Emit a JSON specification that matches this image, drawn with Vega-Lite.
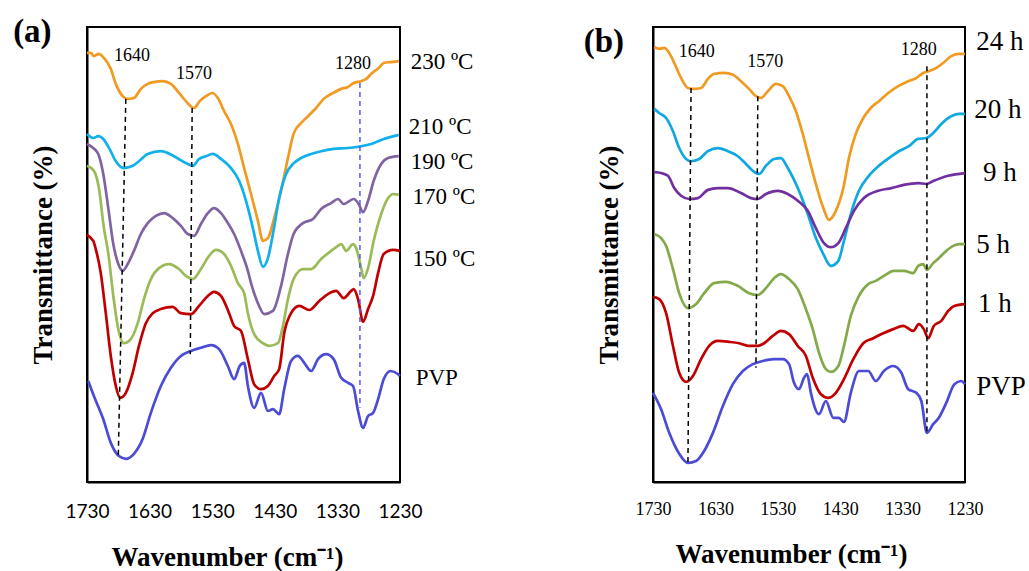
{
  "$schema": "https://vega.github.io/schema/vega-lite/v6.json",
  "padding": {"left": 12, "top": 15, "right": 0, "bottom": 0},
  "background": "white",
  "bounds": "flush",
  "spacing": 253,
  "resolve": {"scale": {"color": "independent", "x": "independent", "y": "independent"}},
  "config": {
    "view": {"stroke": "black", "strokeWidth": 2},
    "axis": {"grid": false, "zindex": 1, "domainColor": "black", "domainWidth": 2, "tickColor": "black", "labelColor": "black", "titleColor": "black", "titleFont": "Liberation Serif", "titleFontWeight": "bold", "titleFontSize": 27}
  },
  "hconcat": [
    {
      "width": 313,
      "height": 455,
      "encoding": {
        "x": {"field": "w", "type": "quantitative", "scale": {"domain": [1230, 1730], "reverse": true, "nice": false, "zero": false},
          "axis": {"values": [1730, 1630, 1530, 1430, 1330, 1230], "format": "d", "ticks": false, "labelFont": "Lato", "labelFontSize": 19, "labelPadding": 20, "labelFlush": false, "labelOverlap": false, "labelBound": false, "title": "Wavenumber (cm⁻¹)", "titlePadding": 23, "titleX": 140}},
        "y": {"field": "t", "type": "quantitative", "scale": {"domain": [0, 100], "nice": false, "zero": false},
          "axis": {"labels": false, "ticks": false, "title": "Transmittance (%)", "titlePadding": 30}}
      },
      "layer": [
        {
          "data": {"values": [
{"s":"230","w":1730,"t":94.3},{"s":"230","w":1724,"t":94.3},{"s":"230","w":1719,"t":93.6},{"s":"230","w":1711,"t":94.1},{"s":"230","w":1703,"t":93.2},{"s":"230","w":1692,"t":90.8},{"s":"230","w":1684,"t":87.5},{"s":"230","w":1673,"t":84.8},{"s":"230","w":1666,"t":84.2},{"s":"230","w":1655,"t":84.4},{"s":"230","w":1644,"t":86.4},{"s":"230","w":1633,"t":87.5},{"s":"230","w":1623,"t":87.9},{"s":"230","w":1609,"t":88.1},{"s":"230","w":1596,"t":87.5},{"s":"230","w":1583,"t":85.5},{"s":"230","w":1572,"t":83.7},{"s":"230","w":1559,"t":82.2},{"s":"230","w":1550,"t":83.7},{"s":"230","w":1540,"t":84.8},{"s":"230","w":1530,"t":85.5},{"s":"230","w":1521,"t":84.4},{"s":"230","w":1511,"t":81.5},{"s":"230","w":1500,"t":78.7},{"s":"230","w":1489,"t":74.3},{"s":"230","w":1479,"t":69.0},{"s":"230","w":1468,"t":63.3},{"s":"230","w":1457,"t":57.4},{"s":"230","w":1449,"t":53.0},{"s":"230","w":1441,"t":53.6},{"s":"230","w":1431,"t":58.0},{"s":"230","w":1420,"t":64.0},{"s":"230","w":1409,"t":71.2},{"s":"230","w":1400,"t":76.5},{"s":"230","w":1388,"t":78.9},{"s":"230","w":1377,"t":80.4},{"s":"230","w":1364,"t":82.2},{"s":"230","w":1352,"t":84.2},{"s":"230","w":1337,"t":85.5},{"s":"230","w":1324,"t":86.4},{"s":"230","w":1313,"t":86.8},{"s":"230","w":1304,"t":87.7},{"s":"230","w":1292,"t":88.1},{"s":"230","w":1284,"t":88.6},{"s":"230","w":1276,"t":89.7},{"s":"230","w":1264,"t":91.0},{"s":"230","w":1256,"t":92.1},{"s":"230","w":1244,"t":92.3},{"s":"230","w":1232,"t":92.5},
{"s":"210","w":1730,"t":76.5},{"s":"210","w":1720,"t":75.6},{"s":"210","w":1712,"t":76.0},{"s":"210","w":1704,"t":75.4},{"s":"210","w":1694,"t":73.2},{"s":"210","w":1684,"t":70.5},{"s":"210","w":1671,"t":69.0},{"s":"210","w":1657,"t":69.5},{"s":"210","w":1647,"t":70.5},{"s":"210","w":1633,"t":72.1},{"s":"210","w":1612,"t":72.7},{"s":"210","w":1591,"t":71.6},{"s":"210","w":1572,"t":70.1},{"s":"210","w":1561,"t":69.5},{"s":"210","w":1551,"t":71.0},{"s":"210","w":1540,"t":71.6},{"s":"210","w":1529,"t":72.1},{"s":"210","w":1516,"t":71.0},{"s":"210","w":1500,"t":69.0},{"s":"210","w":1487,"t":66.2},{"s":"210","w":1476,"t":61.8},{"s":"210","w":1465,"t":55.8},{"s":"210","w":1457,"t":50.8},{"s":"210","w":1449,"t":47.3},{"s":"210","w":1441,"t":49.2},{"s":"210","w":1433,"t":54.5},{"s":"210","w":1423,"t":62.4},{"s":"210","w":1412,"t":67.7},{"s":"210","w":1401,"t":69.9},{"s":"210","w":1388,"t":71.2},{"s":"210","w":1372,"t":72.1},{"s":"210","w":1356,"t":72.7},{"s":"210","w":1336,"t":73.2},{"s":"210","w":1313,"t":73.4},{"s":"210","w":1292,"t":73.8},{"s":"210","w":1276,"t":74.3},{"s":"210","w":1256,"t":75.4},{"s":"210","w":1232,"t":76.3},
{"s":"190","w":1730,"t":74.3},{"s":"190","w":1720,"t":73.4},{"s":"190","w":1712,"t":72.1},{"s":"190","w":1704,"t":67.7},{"s":"190","w":1696,"t":60.2},{"s":"190","w":1688,"t":52.3},{"s":"190","w":1680,"t":47.9},{"s":"190","w":1673,"t":46.4},{"s":"190","w":1665,"t":47.9},{"s":"190","w":1655,"t":50.8},{"s":"190","w":1644,"t":54.5},{"s":"190","w":1633,"t":56.9},{"s":"190","w":1620,"t":58.5},{"s":"190","w":1607,"t":59.1},{"s":"190","w":1593,"t":58.0},{"s":"190","w":1580,"t":56.3},{"s":"190","w":1569,"t":54.5},{"s":"190","w":1559,"t":54.1},{"s":"190","w":1548,"t":56.7},{"s":"190","w":1537,"t":59.1},{"s":"190","w":1527,"t":60.2},{"s":"190","w":1516,"t":59.1},{"s":"190","w":1505,"t":56.9},{"s":"190","w":1495,"t":54.5},{"s":"190","w":1484,"t":50.8},{"s":"190","w":1473,"t":46.4},{"s":"190","w":1468,"t":43.7},{"s":"190","w":1457,"t":39.3},{"s":"190","w":1447,"t":36.9},{"s":"190","w":1433,"t":37.6},{"s":"190","w":1420,"t":43.1},{"s":"190","w":1409,"t":50.1},{"s":"190","w":1400,"t":54.5},{"s":"190","w":1385,"t":56.9},{"s":"190","w":1369,"t":57.8},{"s":"190","w":1356,"t":60.0},{"s":"190","w":1340,"t":61.3},{"s":"190","w":1329,"t":62.2},{"s":"190","w":1320,"t":61.1},{"s":"190","w":1304,"t":62.2},{"s":"190","w":1296,"t":61.1},{"s":"190","w":1289,"t":59.3},{"s":"190","w":1281,"t":61.8},{"s":"190","w":1272,"t":66.2},{"s":"190","w":1260,"t":69.9},{"s":"190","w":1249,"t":71.2},{"s":"190","w":1232,"t":71.6},
{"s":"170","w":1730,"t":69.5},{"s":"170","w":1719,"t":68.4},{"s":"170","w":1711,"t":64.6},{"s":"170","w":1703,"t":55.8},{"s":"170","w":1696,"t":50.3},{"s":"170","w":1688,"t":40.9},{"s":"170","w":1680,"t":33.6},{"s":"170","w":1671,"t":30.5},{"s":"170","w":1660,"t":31.4},{"s":"170","w":1649,"t":34.9},{"s":"170","w":1639,"t":40.2},{"s":"170","w":1628,"t":44.6},{"s":"170","w":1615,"t":47.0},{"s":"170","w":1599,"t":47.9},{"s":"170","w":1583,"t":46.8},{"s":"170","w":1572,"t":45.3},{"s":"170","w":1561,"t":44.6},{"s":"170","w":1548,"t":46.8},{"s":"170","w":1535,"t":49.7},{"s":"170","w":1524,"t":51.0},{"s":"170","w":1511,"t":50.1},{"s":"170","w":1500,"t":47.5},{"s":"170","w":1489,"t":43.7},{"s":"170","w":1479,"t":41.5},{"s":"170","w":1473,"t":37.1},{"s":"170","w":1463,"t":32.5},{"s":"170","w":1449,"t":30.5},{"s":"170","w":1439,"t":29.9},{"s":"170","w":1425,"t":30.5},{"s":"170","w":1417,"t":34.3},{"s":"170","w":1409,"t":40.2},{"s":"170","w":1400,"t":44.6},{"s":"170","w":1385,"t":46.8},{"s":"170","w":1372,"t":46.8},{"s":"170","w":1356,"t":49.0},{"s":"170","w":1340,"t":50.8},{"s":"170","w":1329,"t":51.9},{"s":"170","w":1324,"t":52.3},{"s":"170","w":1316,"t":50.8},{"s":"170","w":1305,"t":52.3},{"s":"170","w":1300,"t":51.4},{"s":"170","w":1292,"t":47.0},{"s":"170","w":1288,"t":44.8},{"s":"170","w":1281,"t":47.0},{"s":"170","w":1272,"t":53.0},{"s":"170","w":1260,"t":58.9},{"s":"170","w":1249,"t":62.4},{"s":"170","w":1241,"t":63.3},{"s":"170","w":1232,"t":63.1},
{"s":"150","w":1730,"t":54.3},{"s":"150","w":1720,"t":53.0},{"s":"150","w":1716,"t":51.2},{"s":"150","w":1708,"t":45.9},{"s":"150","w":1700,"t":37.1},{"s":"150","w":1692,"t":27.7},{"s":"150","w":1684,"t":21.1},{"s":"150","w":1677,"t":18.5},{"s":"150","w":1668,"t":19.6},{"s":"150","w":1657,"t":24.0},{"s":"150","w":1647,"t":29.9},{"s":"150","w":1636,"t":34.9},{"s":"150","w":1625,"t":37.1},{"s":"150","w":1612,"t":38.0},{"s":"150","w":1593,"t":38.5},{"s":"150","w":1580,"t":37.1},{"s":"150","w":1564,"t":36.9},{"s":"150","w":1551,"t":38.7},{"s":"150","w":1537,"t":40.9},{"s":"150","w":1527,"t":41.8},{"s":"150","w":1516,"t":40.9},{"s":"150","w":1503,"t":37.1},{"s":"150","w":1495,"t":34.3},{"s":"150","w":1484,"t":33.2},{"s":"150","w":1473,"t":27.0},{"s":"150","w":1463,"t":21.5},{"s":"150","w":1452,"t":20.4},{"s":"150","w":1441,"t":21.1},{"s":"150","w":1431,"t":23.3},{"s":"150","w":1423,"t":24.8},{"s":"150","w":1415,"t":32.7},{"s":"150","w":1404,"t":37.1},{"s":"150","w":1391,"t":38.7},{"s":"150","w":1375,"t":37.8},{"s":"150","w":1359,"t":39.8},{"s":"150","w":1345,"t":41.3},{"s":"150","w":1332,"t":42.0},{"s":"150","w":1320,"t":40.4},{"s":"150","w":1308,"t":42.0},{"s":"150","w":1304,"t":42.4},{"s":"150","w":1297,"t":40.2},{"s":"150","w":1289,"t":35.2},{"s":"150","w":1281,"t":38.0},{"s":"150","w":1273,"t":40.9},{"s":"150","w":1265,"t":45.9},{"s":"150","w":1256,"t":50.1},{"s":"150","w":1241,"t":51.0},{"s":"150","w":1230,"t":50.8},
{"s":"PVP","w":1728,"t":22.2},{"s":"PVP","w":1719,"t":18.9},{"s":"PVP","w":1704,"t":13.8},{"s":"PVP","w":1692,"t":8.6},{"s":"PVP","w":1679,"t":5.7},{"s":"PVP","w":1668,"t":5.1},{"s":"PVP","w":1655,"t":6.2},{"s":"PVP","w":1641,"t":9.5},{"s":"PVP","w":1628,"t":15.2},{"s":"PVP","w":1612,"t":21.1},{"s":"PVP","w":1596,"t":25.1},{"s":"PVP","w":1580,"t":27.7},{"s":"PVP","w":1564,"t":28.8},{"s":"PVP","w":1548,"t":29.5},{"s":"PVP","w":1532,"t":30.1},{"s":"PVP","w":1519,"t":29.2},{"s":"PVP","w":1505,"t":25.5},{"s":"PVP","w":1495,"t":22.6},{"s":"PVP","w":1486,"t":25.5},{"s":"PVP","w":1479,"t":26.2},{"s":"PVP","w":1473,"t":21.1},{"s":"PVP","w":1463,"t":16.3},{"s":"PVP","w":1452,"t":19.6},{"s":"PVP","w":1441,"t":15.6},{"s":"PVP","w":1433,"t":16.0},{"s":"PVP","w":1423,"t":14.9},{"s":"PVP","w":1415,"t":20.4},{"s":"PVP","w":1404,"t":26.6},{"s":"PVP","w":1393,"t":27.7},{"s":"PVP","w":1383,"t":26.2},{"s":"PVP","w":1372,"t":24.4},{"s":"PVP","w":1361,"t":27.0},{"s":"PVP","w":1348,"t":28.1},{"s":"PVP","w":1336,"t":27.0},{"s":"PVP","w":1324,"t":22.9},{"s":"PVP","w":1313,"t":21.8},{"s":"PVP","w":1305,"t":21.1},{"s":"PVP","w":1297,"t":15.6},{"s":"PVP","w":1289,"t":11.9},{"s":"PVP","w":1281,"t":14.5},{"s":"PVP","w":1273,"t":15.2},{"s":"PVP","w":1265,"t":18.2},{"s":"PVP","w":1256,"t":22.6},{"s":"PVP","w":1245,"t":24.4},{"s":"PVP","w":1233,"t":23.7},{"s":"PVP","w":1230,"t":23.3}
          ]},
          "mark": {"type": "line", "strokeWidth": 2.7, "interpolate": "monotone"},
          "encoding": {
            "color": {"field": "s", "type": "nominal", "legend": null,
              "scale": {"domain": ["PVP", "150", "170", "190", "210", "230"], "range": ["#4b4bd6", "#c00000", "#9bbb59", "#8064a2", "#10b0ec", "#f09a22"]}}
          }
        },
        {
          "data": {"values": [{"w": 1630}, {"w": 1530}, {"w": 1430}, {"w": 1330}]},
          "mark": {"type": "rule", "strokeWidth": 2.5, "color": "black"},
          "encoding": {"y": {"datum": 0}, "y2": {"datum": 1.8}}
        },
        {
          "data": {"values": [
            {"w": 1668, "w2": 1680, "t": 84.2, "t2": 5.7},
            {"w": 1562, "w2": 1565, "t": 82.2, "t2": 28.1},
            {"w": 1294, "w2": 1294, "t": 87.7, "t2": 16.3}
          ]},
          "mark": {"type": "rule", "strokeWidth": 1.5, "strokeDash": [5, 4]},
          "encoding": {
            "x2": {"field": "w2"},
            "y2": {"field": "t2"},
            "color": {"condition": {"test": "datum.w < 1400", "value": "#5a5aea"}, "value": "black"}
          }
        },
        {
          "data": {"values": [
            {"w": 1658, "t": 93.6, "label": "1640"},
            {"w": 1559, "t": 89.7, "label": "1570"},
            {"w": 1305, "t": 91.9, "label": "1280"}
          ]},
          "mark": {"type": "text", "font": "Liberation Serif", "fontSize": 18, "align": "center", "baseline": "middle", "color": "black"},
          "encoding": {"text": {"field": "label"}}
        },
        {
          "data": {"values": [
            {"w": 1213, "t": 92.3, "label": "230 ºC"},
            {"w": 1216, "t": 78.0, "label": "210 ºC"},
            {"w": 1213, "t": 70.3, "label": "190 ºC"},
            {"w": 1210, "t": 62.6, "label": "170 ºC"},
            {"w": 1210, "t": 49.0, "label": "150 ºC"},
            {"w": 1205, "t": 22.9, "label": "PVP"}
          ]},
          "mark": {"type": "text", "font": "Liberation Serif", "fontSize": 23, "align": "left", "baseline": "middle", "color": "black"},
          "encoding": {"text": {"field": "label"}}
        },
        {
          "data": {"values": [{"w": 1848, "t": 98.9, "label": "(a)"}]},
          "mark": {"type": "text", "font": "Liberation Serif", "fontSize": 33, "fontWeight": "bold", "align": "left", "baseline": "middle", "color": "black"},
          "encoding": {"text": {"field": "label"}}
        }
      ]
    },
    {
      "width": 312,
      "height": 455,
      "encoding": {
        "x": {"field": "w", "type": "quantitative", "scale": {"domain": [1230, 1730], "reverse": true, "nice": false, "zero": false},
          "axis": {"values": [1730, 1630, 1530, 1430, 1330, 1230], "format": "d", "ticks": false, "labelFont": "Liberation Serif", "labelFontSize": 18, "labelPadding": 18, "labelFlush": false, "labelOverlap": false, "labelBound": false, "title": "Wavenumber (cm⁻¹)", "titlePadding": 23, "titleX": 138}},
        "y": {"field": "t", "type": "quantitative", "scale": {"domain": [0, 100], "nice": false, "zero": false},
          "axis": {"labels": false, "ticks": false, "title": "Transmittance (%)", "titlePadding": 30}}
      },
      "layer": [
        {
          "data": {"values": [
{"s":"24 h","w":1728,"t":95.6},{"s":"24 h","w":1720,"t":95.2},{"s":"24 h","w":1712,"t":95.4},{"s":"24 h","w":1704,"t":94.3},{"s":"24 h","w":1696,"t":92.1},{"s":"24 h","w":1685,"t":88.8},{"s":"24 h","w":1674,"t":86.6},{"s":"24 h","w":1664,"t":86.4},{"s":"24 h","w":1653,"t":86.6},{"s":"24 h","w":1642,"t":88.6},{"s":"24 h","w":1632,"t":89.7},{"s":"24 h","w":1616,"t":89.9},{"s":"24 h","w":1602,"t":89.5},{"s":"24 h","w":1589,"t":88.1},{"s":"24 h","w":1576,"t":86.4},{"s":"24 h","w":1565,"t":84.8},{"s":"24 h","w":1557,"t":84.4},{"s":"24 h","w":1546,"t":85.9},{"s":"24 h","w":1533,"t":87.5},{"s":"24 h","w":1522,"t":87.0},{"s":"24 h","w":1512,"t":84.8},{"s":"24 h","w":1501,"t":81.5},{"s":"24 h","w":1490,"t":76.5},{"s":"24 h","w":1480,"t":71.2},{"s":"24 h","w":1469,"t":65.5},{"s":"24 h","w":1457,"t":60.2},{"s":"24 h","w":1448,"t":57.6},{"s":"24 h","w":1437,"t":59.6},{"s":"24 h","w":1425,"t":64.6},{"s":"24 h","w":1416,"t":71.2},{"s":"24 h","w":1405,"t":76.5},{"s":"24 h","w":1393,"t":80.0},{"s":"24 h","w":1381,"t":82.2},{"s":"24 h","w":1368,"t":83.7},{"s":"24 h","w":1353,"t":85.5},{"s":"24 h","w":1337,"t":87.0},{"s":"24 h","w":1321,"t":88.1},{"s":"24 h","w":1308,"t":88.8},{"s":"24 h","w":1297,"t":89.9},{"s":"24 h","w":1288,"t":90.3},{"s":"24 h","w":1276,"t":91.0},{"s":"24 h","w":1265,"t":92.1},{"s":"24 h","w":1252,"t":93.6},{"s":"24 h","w":1239,"t":94.1},{"s":"24 h","w":1230,"t":94.1},
{"s":"20 h","w":1728,"t":82.0},{"s":"20 h","w":1720,"t":81.1},{"s":"20 h","w":1709,"t":80.0},{"s":"20 h","w":1698,"t":77.1},{"s":"20 h","w":1688,"t":73.4},{"s":"20 h","w":1677,"t":71.0},{"s":"20 h","w":1669,"t":70.5},{"s":"20 h","w":1656,"t":71.0},{"s":"20 h","w":1642,"t":72.7},{"s":"20 h","w":1626,"t":73.4},{"s":"20 h","w":1610,"t":72.7},{"s":"20 h","w":1594,"t":71.6},{"s":"20 h","w":1581,"t":69.9},{"s":"20 h","w":1570,"t":68.4},{"s":"20 h","w":1560,"t":67.7},{"s":"20 h","w":1549,"t":69.5},{"s":"20 h","w":1536,"t":71.0},{"s":"20 h","w":1525,"t":71.2},{"s":"20 h","w":1514,"t":69.0},{"s":"20 h","w":1498,"t":64.6},{"s":"20 h","w":1482,"t":58.9},{"s":"20 h","w":1469,"t":53.6},{"s":"20 h","w":1457,"t":50.1},{"s":"20 h","w":1445,"t":47.5},{"s":"20 h","w":1433,"t":48.6},{"s":"20 h","w":1424,"t":53.0},{"s":"20 h","w":1413,"t":58.9},{"s":"20 h","w":1400,"t":64.0},{"s":"20 h","w":1384,"t":67.3},{"s":"20 h","w":1368,"t":69.5},{"s":"20 h","w":1352,"t":71.2},{"s":"20 h","w":1336,"t":72.7},{"s":"20 h","w":1320,"t":73.8},{"s":"20 h","w":1305,"t":75.4},{"s":"20 h","w":1292,"t":75.6},{"s":"20 h","w":1281,"t":76.7},{"s":"20 h","w":1268,"t":78.7},{"s":"20 h","w":1252,"t":80.4},{"s":"20 h","w":1239,"t":80.9},{"s":"20 h","w":1230,"t":80.9},
{"s":"9 h","w":1728,"t":68.1},{"s":"9 h","w":1717,"t":67.9},{"s":"9 h","w":1706,"t":67.3},{"s":"9 h","w":1696,"t":64.6},{"s":"9 h","w":1685,"t":62.9},{"s":"9 h","w":1672,"t":62.2},{"s":"9 h","w":1658,"t":62.4},{"s":"9 h","w":1642,"t":64.2},{"s":"9 h","w":1626,"t":64.6},{"s":"9 h","w":1610,"t":64.6},{"s":"9 h","w":1589,"t":63.5},{"s":"9 h","w":1573,"t":62.4},{"s":"9 h","w":1562,"t":62.2},{"s":"9 h","w":1549,"t":63.3},{"s":"9 h","w":1530,"t":64.0},{"s":"9 h","w":1514,"t":63.3},{"s":"9 h","w":1498,"t":61.8},{"s":"9 h","w":1482,"t":59.6},{"s":"9 h","w":1469,"t":55.8},{"s":"9 h","w":1456,"t":52.5},{"s":"9 h","w":1445,"t":51.6},{"s":"9 h","w":1433,"t":52.5},{"s":"9 h","w":1421,"t":55.8},{"s":"9 h","w":1408,"t":59.6},{"s":"9 h","w":1392,"t":62.4},{"s":"9 h","w":1369,"t":64.0},{"s":"9 h","w":1348,"t":64.6},{"s":"9 h","w":1328,"t":65.3},{"s":"9 h","w":1305,"t":65.7},{"s":"9 h","w":1292,"t":65.5},{"s":"9 h","w":1280,"t":66.2},{"s":"9 h","w":1257,"t":67.3},{"s":"9 h","w":1230,"t":67.9},
{"s":"5 h","w":1728,"t":54.5},{"s":"5 h","w":1717,"t":53.6},{"s":"5 h","w":1709,"t":51.9},{"s":"5 h","w":1698,"t":46.8},{"s":"5 h","w":1688,"t":41.5},{"s":"5 h","w":1674,"t":38.2},{"s":"5 h","w":1661,"t":39.1},{"s":"5 h","w":1648,"t":41.5},{"s":"5 h","w":1632,"t":43.7},{"s":"5 h","w":1613,"t":44.0},{"s":"5 h","w":1594,"t":43.1},{"s":"5 h","w":1576,"t":41.5},{"s":"5 h","w":1562,"t":41.1},{"s":"5 h","w":1549,"t":42.6},{"s":"5 h","w":1536,"t":44.8},{"s":"5 h","w":1525,"t":45.7},{"s":"5 h","w":1512,"t":44.6},{"s":"5 h","w":1498,"t":42.4},{"s":"5 h","w":1485,"t":38.0},{"s":"5 h","w":1474,"t":33.6},{"s":"5 h","w":1464,"t":28.4},{"s":"5 h","w":1453,"t":24.8},{"s":"5 h","w":1445,"t":24.2},{"s":"5 h","w":1433,"t":25.5},{"s":"5 h","w":1424,"t":29.9},{"s":"5 h","w":1413,"t":36.5},{"s":"5 h","w":1400,"t":40.9},{"s":"5 h","w":1385,"t":43.5},{"s":"5 h","w":1373,"t":44.2},{"s":"5 h","w":1360,"t":45.3},{"s":"5 h","w":1344,"t":46.4},{"s":"5 h","w":1328,"t":46.4},{"s":"5 h","w":1313,"t":45.9},{"s":"5 h","w":1305,"t":47.5},{"s":"5 h","w":1297,"t":47.9},{"s":"5 h","w":1291,"t":46.6},{"s":"5 h","w":1281,"t":48.1},{"s":"5 h","w":1272,"t":49.2},{"s":"5 h","w":1260,"t":50.8},{"s":"5 h","w":1249,"t":51.9},{"s":"5 h","w":1239,"t":52.3},{"s":"5 h","w":1230,"t":52.3},
{"s":"1 h","w":1730,"t":40.7},{"s":"1 h","w":1720,"t":40.2},{"s":"1 h","w":1709,"t":37.1},{"s":"1 h","w":1698,"t":29.9},{"s":"1 h","w":1688,"t":24.0},{"s":"1 h","w":1677,"t":22.0},{"s":"1 h","w":1666,"t":23.3},{"s":"1 h","w":1653,"t":27.0},{"s":"1 h","w":1640,"t":29.9},{"s":"1 h","w":1626,"t":31.0},{"s":"1 h","w":1608,"t":30.8},{"s":"1 h","w":1592,"t":30.5},{"s":"1 h","w":1576,"t":29.9},{"s":"1 h","w":1562,"t":29.9},{"s":"1 h","w":1552,"t":30.5},{"s":"1 h","w":1538,"t":32.1},{"s":"1 h","w":1525,"t":33.2},{"s":"1 h","w":1512,"t":32.5},{"s":"1 h","w":1498,"t":29.9},{"s":"1 h","w":1485,"t":27.7},{"s":"1 h","w":1474,"t":22.9},{"s":"1 h","w":1461,"t":19.3},{"s":"1 h","w":1449,"t":18.5},{"s":"1 h","w":1437,"t":19.6},{"s":"1 h","w":1424,"t":22.6},{"s":"1 h","w":1409,"t":27.0},{"s":"1 h","w":1393,"t":30.5},{"s":"1 h","w":1377,"t":31.6},{"s":"1 h","w":1361,"t":32.7},{"s":"1 h","w":1345,"t":33.6},{"s":"1 h","w":1329,"t":34.3},{"s":"1 h","w":1313,"t":33.2},{"s":"1 h","w":1304,"t":34.7},{"s":"1 h","w":1296,"t":33.6},{"s":"1 h","w":1289,"t":31.6},{"s":"1 h","w":1280,"t":34.3},{"s":"1 h","w":1268,"t":35.4},{"s":"1 h","w":1257,"t":37.6},{"s":"1 h","w":1247,"t":38.7},{"s":"1 h","w":1230,"t":39.1},
{"s":"PVP","w":1730,"t":19.6},{"s":"PVP","w":1717,"t":16.0},{"s":"PVP","w":1704,"t":10.8},{"s":"PVP","w":1688,"t":6.2},{"s":"PVP","w":1674,"t":4.2},{"s":"PVP","w":1661,"t":4.6},{"s":"PVP","w":1648,"t":6.8},{"s":"PVP","w":1634,"t":10.8},{"s":"PVP","w":1618,"t":16.7},{"s":"PVP","w":1602,"t":21.5},{"s":"PVP","w":1586,"t":24.4},{"s":"PVP","w":1570,"t":25.9},{"s":"PVP","w":1554,"t":26.6},{"s":"PVP","w":1536,"t":27.0},{"s":"PVP","w":1522,"t":27.0},{"s":"PVP","w":1512,"t":25.9},{"s":"PVP","w":1504,"t":21.8},{"s":"PVP","w":1496,"t":20.4},{"s":"PVP","w":1488,"t":22.9},{"s":"PVP","w":1483,"t":23.7},{"s":"PVP","w":1477,"t":19.6},{"s":"PVP","w":1464,"t":14.9},{"s":"PVP","w":1453,"t":17.8},{"s":"PVP","w":1441,"t":14.1},{"s":"PVP","w":1432,"t":14.1},{"s":"PVP","w":1424,"t":13.2},{"s":"PVP","w":1413,"t":19.6},{"s":"PVP","w":1400,"t":24.4},{"s":"PVP","w":1385,"t":24.4},{"s":"PVP","w":1373,"t":22.2},{"s":"PVP","w":1360,"t":24.4},{"s":"PVP","w":1345,"t":25.5},{"s":"PVP","w":1332,"t":24.0},{"s":"PVP","w":1321,"t":20.4},{"s":"PVP","w":1308,"t":19.6},{"s":"PVP","w":1300,"t":17.8},{"s":"PVP","w":1291,"t":10.8},{"s":"PVP","w":1281,"t":12.7},{"s":"PVP","w":1272,"t":14.1},{"s":"PVP","w":1260,"t":17.4},{"s":"PVP","w":1247,"t":21.5},{"s":"PVP","w":1236,"t":22.2},{"s":"PVP","w":1230,"t":21.5}
          ]},
          "mark": {"type": "line", "strokeWidth": 2.7, "interpolate": "monotone"},
          "encoding": {
            "color": {"field": "s", "type": "nominal", "legend": null,
              "scale": {"domain": ["PVP", "1 h", "5 h", "9 h", "20 h", "24 h"], "range": ["#4b4bd6", "#c00000", "#84a94a", "#7030a0", "#10a8e0", "#f09a22"]}}
          }
        },
        {
          "data": {"values": [{"w": 1630}, {"w": 1530}, {"w": 1430}, {"w": 1330}]},
          "mark": {"type": "rule", "strokeWidth": 2.5, "color": "black"},
          "encoding": {"y": {"datum": 0}, "y2": {"datum": 1.8}}
        },
        {
          "data": {"values": [
            {"w": 1669, "w2": 1674, "t": 86.6, "t2": 4.2},
            {"w": 1562, "w2": 1565, "t": 84.8, "t2": 25.1},
            {"w": 1291, "w2": 1291, "t": 91.4, "t2": 10.5}
          ]},
          "mark": {"type": "rule", "strokeWidth": 1.5, "strokeDash": [5, 4], "color": "black"},
          "encoding": {
            "x2": {"field": "w2"},
            "y2": {"field": "t2"}
          }
        },
        {
          "data": {"values": [
            {"w": 1660, "t": 94.5, "label": "1640"},
            {"w": 1550, "t": 92.3, "label": "1570"},
            {"w": 1304, "t": 94.9, "label": "1280"}
          ]},
          "mark": {"type": "text", "font": "Liberation Serif", "fontSize": 18, "align": "center", "baseline": "middle", "color": "black"},
          "encoding": {"text": {"field": "label"}}
        },
        {
          "data": {"values": [
            {"w": 1212, "t": 96.7, "label": "24 h"},
            {"w": 1215, "t": 81.8, "label": "20 h"},
            {"w": 1201, "t": 67.9, "label": "9 h"},
            {"w": 1212, "t": 52.1, "label": "5 h"},
            {"w": 1209, "t": 39.1, "label": "1 h"},
            {"w": 1212, "t": 20.9, "label": "PVP"}
          ]},
          "mark": {"type": "text", "font": "Liberation Serif", "fontSize": 27, "align": "left", "baseline": "middle", "color": "black"},
          "encoding": {"text": {"field": "label"}}
        },
        {
          "data": {"values": [{"w": 1841, "t": 96.7, "label": "(b)"}]},
          "mark": {"type": "text", "font": "Liberation Serif", "fontSize": 33, "fontWeight": "bold", "align": "left", "baseline": "middle", "color": "black"},
          "encoding": {"text": {"field": "label"}}
        }
      ]
    }
  ]
}
